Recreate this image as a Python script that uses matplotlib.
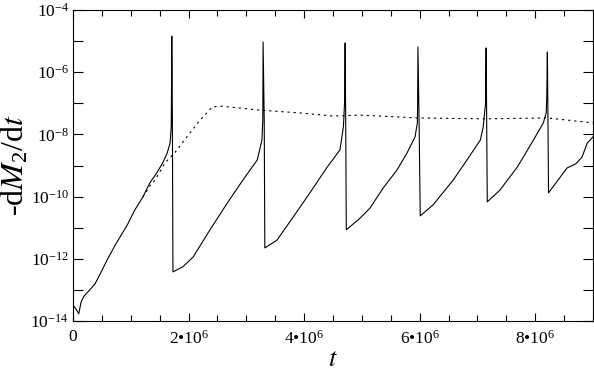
import numpy as np
import matplotlib
matplotlib.use('Agg')
import matplotlib.pyplot as plt

# time in units of 1e6, rate as log10 value
t_solid = [0.00, 0.05, 0.10, 0.14, 0.19, 0.29, 0.38, 0.47, 0.59, 0.73, 0.94, 1.07, 1.21,
           1.33, 1.45, 1.56, 1.63, 1.68, 1.70, 1.705, 1.71, 1.72, 1.73,
           1.90, 2.08, 2.37, 2.67, 2.94, 3.19, 3.27, 3.285, 3.29, 3.31, 3.32,
           3.53, 3.81, 4.10, 4.40, 4.62, 4.68, 4.70, 4.71, 4.72, 4.73,
           4.97, 5.14, 5.37, 5.61, 5.78, 5.92, 5.96, 5.965, 5.97, 5.99, 6.01,
           6.23, 6.58, 6.82, 7.05, 7.10, 7.14, 7.15, 7.16, 7.17,
           7.39, 7.69, 7.97, 8.14, 8.19, 8.20, 8.21, 8.22, 8.23,
           8.55, 8.70, 8.81, 8.90, 9.00]
log_solid = [-13.49, -13.61, -13.77, -13.39, -13.20, -13.00, -12.81, -12.49, -12.04, -11.56,
             -10.91, -10.43, -10.01, -9.56, -9.24, -8.89, -8.60, -8.28, -7.76, -6.6, -4.84,
             -7.5, -12.42,
             -12.26, -11.94, -11.07, -10.21, -9.47, -8.82, -8.18, -7.54, -5.03, -7.6, -11.65,
             -11.40, -10.66, -9.88, -9.05, -8.50, -7.76, -7.0, -5.06, -7.6, -11.07,
             -10.69, -10.37, -9.72, -9.14, -8.60, -8.08, -7.63, -7.0, -5.19, -7.6, -10.62,
             -10.27, -9.47, -8.82, -8.18, -7.76, -7.0, -5.22, -7.6, -10.17,
             -9.79, -9.05, -8.18, -7.63, -7.31, -6.8, -5.35, -7.4, -9.88,
             -9.08, -8.95, -8.73, -8.28, -8.08]

t_dot = [1.21, 1.33, 1.42, 1.59, 1.77, 1.97, 2.20, 2.41, 2.55, 3.24, 3.93, 4.50,
         4.97, 5.96, 7.10, 8.21, 9.00]
log_dot = [-10.01, -9.66, -9.47, -8.92, -8.57, -8.08, -7.54, -7.12, -7.09, -7.22, -7.31,
           -7.41, -7.38, -7.47, -7.50, -7.47, -7.63]

xticks = [0, 2, 4, 6, 8]
xlabels = ['0', '2•10$^{6}$', '4•10$^{6}$', '6•10$^{6}$', '8•10$^{6}$']
ymajor = [-14, -12, -10, -8, -6, -4]
yminor = [-13, -11, -9, -7, -5]

plt.rcParams['font.family'] = ['Liberation Serif', 'DejaVu Serif']
plt.rcParams['mathtext.fontset'] = 'stix'
plt.rcParams['mathtext.default'] = 'regular'

fig = plt.figure(figsize=(5.94, 3.78), dpi=100)
ax = fig.add_axes([73 / 594, 1 - 321 / 378, 520 / 594, 311 / 378])

ax.plot(np.array(t_solid) * 1e6, 10.0 ** np.array(log_solid), color='black', lw=0.8)
ax.plot(np.array(t_dot) * 1e6, 10.0 ** np.array(log_dot), color='black', lw=0.8,
        linestyle=(0, (2, 3.5)))

ax.set_yscale('log')
ax.set_xlim(0, 9e6)
ax.set_ylim(1e-14, 1e-4)

ax.set_xticks([v * 1e6 for v in xticks])
ax.set_xticklabels(xlabels)
ax.set_xticks(np.arange(0, 9.01e6, 0.5e6), minor=True)
ax.set_yticks([10.0 ** e for e in ymajor])
ax.set_yticklabels(['10$^{%d}$' % e for e in ymajor])
ax.set_yticks([10.0 ** e for e in yminor], minor=True)
ax.set_yticklabels([], minor=True)

ax.tick_params(which='both', direction='in', top=True, right=True, labelsize=12.5, width=0.8)
ax.tick_params(axis='y', which='both', length=7.5, pad=3)
ax.tick_params(axis='x', which='major', length=5.5, pad=6)
ax.tick_params(axis='x', which='minor', length=4)
for s in ax.spines.values():
    s.set_linewidth(0.8)

ax.set_xlabel('$\\mathit{t}$', fontsize=19, labelpad=1)
ax.set_ylabel('-d$\\mathit{M}_{2}$/d$\\mathit{t}$', fontsize=23, labelpad=0)

fig.savefig('out.png', dpi=100)
